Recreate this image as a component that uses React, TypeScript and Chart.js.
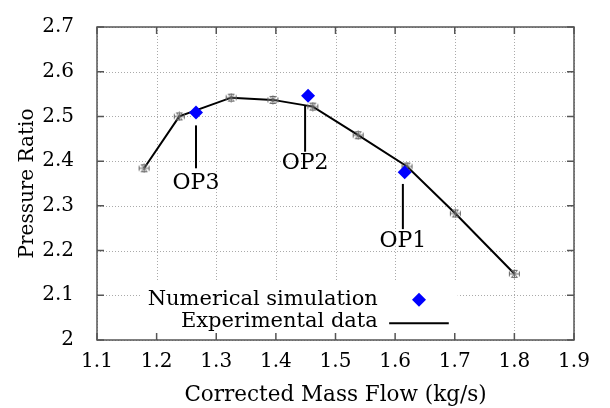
import React, { useEffect, useRef } from "react";
import { Chart, registerables } from "chart.js";

Chart.register(...registerables);

// Data
const expMassFlow = [1.179, 1.238, 1.325, 1.395, 1.462, 1.538, 1.62, 1.701, 1.8];
const expPressureRatio = [2.384, 2.5, 2.542, 2.537, 2.522, 2.458, 2.388, 2.283, 2.148];
const simMassFlow = [1.616, 1.454, 1.266];
const simPressureRatio = [2.375, 2.546, 2.509];
const opLabels = ["OP1", "OP2", "OP3"];
const opLineX = [1.613, 1.449, 1.266];
const opLineTop = [2.349, 2.524, 2.48];
const opLineBottom = [2.248, 2.421, 2.384];
const opLabelY = [2.22, 2.395, 2.351];
const xTicks = [1.1, 1.2, 1.3, 1.4, 1.5, 1.6, 1.7, 1.8, 1.9];
const yTicks = [2.0, 2.1, 2.2, 2.3, 2.4, 2.5, 2.6, 2.7];
const legendLabels = ["Numerical simulation", "Experimental data"];

const FONT = "'DejaVu Serif', 'Liberation Serif', serif";

function makeMarker(): HTMLCanvasElement {
  const c = document.createElement("canvas");
  c.width = 13;
  c.height = 10;
  const g = c.getContext("2d")!;
  g.strokeStyle = "#666";
  g.lineWidth = 1;
  g.beginPath();
  g.moveTo(1.5, 2.5); g.lineTo(1.5, 7.5);
  g.moveTo(11.5, 2.5); g.lineTo(11.5, 7.5);
  g.moveTo(1.5, 5); g.lineTo(11.5, 5);
  g.moveTo(3.5, 1.5); g.lineTo(9.5, 1.5);
  g.moveTo(3.5, 8.5); g.lineTo(9.5, 8.5);
  g.moveTo(3.5, 1.5); g.lineTo(9.5, 8.5);
  g.moveTo(9.5, 1.5); g.lineTo(3.5, 8.5);
  g.moveTo(6.5, 0.5); g.lineTo(6.5, 9.5);
  g.stroke();
  return c;
}

const framePlugin = {
  id: "frameAndExtras",
  beforeDatasetsDraw(chart: any) {
    const { ctx, chartArea: a, scales } = chart;
    const xs = scales.x, ys = scales.y;
    ctx.save();
    // dotted grid
    ctx.strokeStyle = "#aaa";
    ctx.lineWidth = 1;
    ctx.setLineDash([1, 2]);
    ctx.beginPath();
    xTicks.forEach((v) => {
      const px = Math.round(xs.getPixelForValue(v)) + 0.5;
      ctx.moveTo(px, a.top); ctx.lineTo(px, a.bottom);
    });
    yTicks.forEach((v) => {
      const py = Math.round(ys.getPixelForValue(v)) + 0.5;
      ctx.moveTo(a.left, py); ctx.lineTo(a.right, py);
    });
    ctx.stroke();
    ctx.setLineDash([]);
    // legend box background (covers grid)
    ctx.fillStyle = "#fff";
    const lx0 = xs.getPixelForValue(1.175), lx1 = xs.getPixelForValue(1.705);
    const ly0 = ys.getPixelForValue(2.13), ly1 = ys.getPixelForValue(2.006);
    ctx.fillRect(lx0, ly0, lx1 - lx0, ly1 - ly0);
    // frame + inner ticks
    ctx.strokeStyle = "#555";
    ctx.lineWidth = 1.5;
    ctx.strokeRect(a.left, a.top, a.right - a.left, a.bottom - a.top);
    ctx.beginPath();
    const tl = 7;
    xTicks.forEach((v) => {
      const px = xs.getPixelForValue(v);
      ctx.moveTo(px, a.bottom); ctx.lineTo(px, a.bottom - tl);
      ctx.moveTo(px, a.top); ctx.lineTo(px, a.top + tl);
    });
    yTicks.forEach((v) => {
      const py = ys.getPixelForValue(v);
      ctx.moveTo(a.left, py); ctx.lineTo(a.left + tl, py);
      ctx.moveTo(a.right, py); ctx.lineTo(a.right - tl, py);
    });
    ctx.stroke();
    // OP annotations
    ctx.strokeStyle = "#000";
    ctx.lineWidth = 2;
    ctx.fillStyle = "#000";
    ctx.font = `22px ${FONT}`;
    ctx.textAlign = "center";
    ctx.textBaseline = "middle";
    opLabels.forEach((lab, i) => {
      const px = xs.getPixelForValue(opLineX[i]);
      ctx.beginPath();
      ctx.moveTo(px, ys.getPixelForValue(opLineTop[i]));
      ctx.lineTo(px, ys.getPixelForValue(opLineBottom[i]));
      ctx.stroke();
      ctx.fillText(lab, px, ys.getPixelForValue(opLabelY[i]));
    });
    ctx.restore();
  },
  afterDatasetsDraw(chart: any) {
    const { ctx, scales } = chart;
    const xs = scales.x, ys = scales.y;
    ctx.save();
    ctx.font = `21px ${FONT}`;
    ctx.fillStyle = "#000";
    ctx.textAlign = "right";
    ctx.textBaseline = "middle";
    const tx = xs.getPixelForValue(1.571);
    const y1 = ys.getPixelForValue(2.09);
    const y2 = ys.getPixelForValue(2.042);
    ctx.fillText(legendLabels[0], tx, y1);
    ctx.fillText(legendLabels[1], tx, y2);
    const dx = xs.getPixelForValue(1.64);
    ctx.fillStyle = "#0000ff";
    ctx.beginPath();
    ctx.moveTo(dx, y1 - 7); ctx.lineTo(dx + 7, y1); ctx.lineTo(dx, y1 + 7); ctx.lineTo(dx - 7, y1);
    ctx.closePath();
    ctx.fill();
    ctx.strokeStyle = "#000";
    ctx.lineWidth = 2;
    ctx.beginPath();
    ctx.moveTo(xs.getPixelForValue(1.59), y2 + 2);
    ctx.lineTo(xs.getPixelForValue(1.69), y2 + 2);
    ctx.stroke();
    ctx.restore();
  },
};

export default function App() {
  const ref = useRef<HTMLCanvasElement>(null);
  useEffect(() => {
    const marker = makeMarker();
    const chart = new Chart(ref.current!, {
      type: "scatter",
      data: {
        datasets: [
          {
            label: legendLabels[0],
            data: simMassFlow.map((x, i) => ({ x, y: simPressureRatio[i] })),
            pointStyle: "rectRot",
            pointRadius: 7,
            backgroundColor: "#0000ff",
            borderColor: "#0000ff",
            borderWidth: 0,
            showLine: false,
          },
          {
            label: legendLabels[1],
            data: expMassFlow.map((x, i) => ({ x, y: expPressureRatio[i] })),
            pointStyle: marker as any,
            showLine: true,
            borderColor: "#000",
            borderWidth: 2,
            tension: 0,
          },
        ],
      },
      options: {
        animation: false,
        responsive: false,
        layout: { padding: { left: 0, right: 36, top: 20, bottom: 0 } },
        plugins: { legend: { display: false }, tooltip: { enabled: false } },
        scales: {
          x: {
            type: "linear",
            min: 1.1,
            max: 1.9,
            afterBuildTicks: (s: any) => { s.ticks = xTicks.map((v) => ({ value: v })); },
            afterFit: (s: any) => { s.height = 68; },
            border: { display: false },
            grid: { display: false },
            ticks: {
              padding: 2,
              color: "#000",
              font: { family: FONT, size: 20 },
              callback: (v: any) => Number(v).toFixed(1),
              maxRotation: 0,
            },
            title: {
              display: true,
              text: "Corrected Mass Flow (kg/s)",
              color: "#000",
              font: { family: FONT, size: 21.5 },
              padding: { top: 0, bottom: 0 },
            },
          },
          y: {
            type: "linear",
            min: 2.0,
            max: 2.7,
            afterBuildTicks: (s: any) => { s.ticks = yTicks.map((v) => ({ value: v })); },
            afterFit: (s: any) => { s.width = 97; },
            border: { display: false },
            grid: { display: false },
            ticks: {
              padding: 15,
              color: "#000",
              font: { family: FONT, size: 20 },
              callback: (v: any) => (Number(v) === 2 ? "2" : Number(v).toFixed(1)),
            },
            title: {
              display: true,
              text: "Pressure Ratio",
              color: "#000",
              font: { family: FONT, size: 20 },
              padding: { top: 16, bottom: 0 },
            },
          },
        },
      },
      plugins: [framePlugin],
    });
    return () => chart.destroy();
  }, []);
  return (
    <div style={{ position: "fixed", left: 0, top: 0, width: 610, height: 408, background: "#fff" }}>
      <canvas ref={ref} width={610} height={408} />
    </div>
  );
}
